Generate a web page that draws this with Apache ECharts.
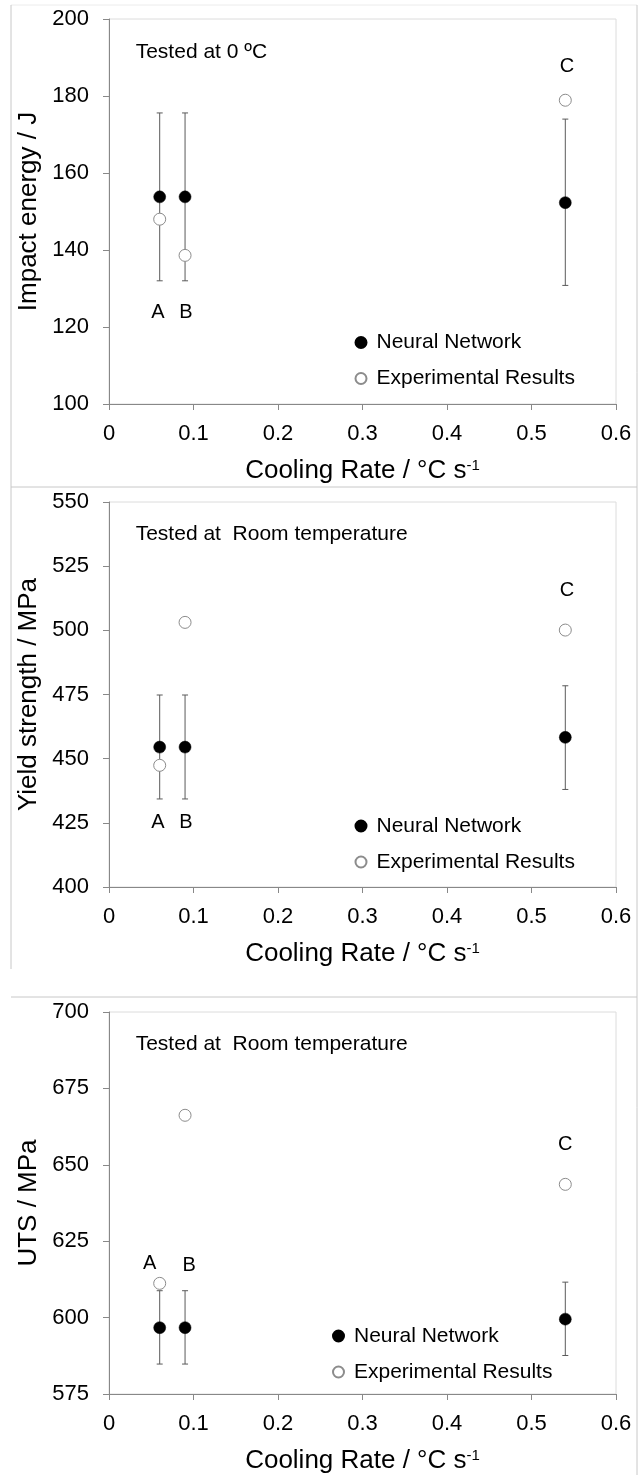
<!DOCTYPE html>
<html>
<head>
<meta charset="utf-8">
<title>Cooling rate: neural network vs experiment</title>
<script src="https://cdn.jsdelivr.net/npm/echarts@6/dist/echarts.min.js"></script>
<style>
  html, body { margin: 0; padding: 0; background: #fff; }
  #chart { width: 641px; height: 1475px; }
</style>
</head>
<body>
<div id="chart"></div>
<script>
// Cooling rates of the three samples (°C/s)
const coolingRate = [0.06, 0.09, 0.54];
const sampleNames = ['A', 'B', 'C'];

// Impact energy at 0 °C (J)
const impactNN = [153.8, 153.8, 152.3];
const impactNNLow = [132.0, 132.0, 130.8];
const impactNNHigh = [175.6, 175.6, 174.0];
const impactExp = [148.0, 138.6, 178.9];

// Yield strength at room temperature (MPa)
const yieldNN = [454.5, 454.5, 458.3];
const yieldNNLow = [434.3, 434.3, 438.0];
const yieldNNHigh = [474.8, 474.8, 478.4];
const yieldExp = [447.4, 503.1, 500.1];

// Ultimate tensile strength at room temperature (MPa)
const utsNN = [596.7, 596.7, 599.5];
const utsNNLow = [584.8, 584.8, 587.6];
const utsNNHigh = [608.8, 608.8, 611.6];
const utsExp = [611.2, 666.2, 643.6];

const FONT = 'Liberation Sans, Arial, Helvetica, sans-serif';

// Per-panel layout: grid placement, axis range, note and letter anchors (data units)
const panels = [
  {
    top: 19, yName: 'Impact energy / J', yMin: 100, yMax: 200, yStep: 20,
    nn: impactNN, lo: impactNNLow, hi: impactNNHigh, exp: impactExp,
    note: 'Tested at 0 ºC', noteAt: [0.031, 191.3],
    letterAt: [[0.058, 123.8], [0.091, 123.8], [0.542, 187.7]],
    legendLeft: 349.5, legendTop: 325.5
  },
  {
    top: 502, yName: 'Yield strength / MPa', yMin: 400, yMax: 550, yStep: 25,
    nn: yieldNN, lo: yieldNNLow, hi: yieldNNHigh, exp: yieldExp,
    note: 'Tested at  Room temperature', noteAt: [0.031, 537.3],
    letterAt: [[0.058, 425.3], [0.091, 425.3], [0.542, 515.6]],
    legendLeft: 349.5, legendTop: 809
  },
  {
    top: 1012, yName: 'UTS / MPa', yMin: 575, yMax: 700, yStep: 25,
    nn: utsNN, lo: utsNNLow, hi: utsNNHigh, exp: utsExp,
    note: 'Tested at  Room temperature', noteAt: [0.031, 689.6],
    letterAt: [[0.048, 617.8], [0.095, 617.1], [0.540, 656.6]],
    legendLeft: 327, legendTop: 1319
  }
];

const grids = [], xAxes = [], yAxes = [], series = [], legends = [];

function errorBarItem(params, api) {
  const x = api.value(0);
  const lo = api.coord([x, api.value(1)]);
  const hi = api.coord([x, api.value(2)]);
  const cap = 3;
  const style = { stroke: '#5a5a5a', lineWidth: 1 };
  return {
    type: 'group',
    children: [
      { type: 'line', shape: { x1: lo[0], y1: lo[1], x2: hi[0], y2: hi[1] }, style },
      { type: 'line', shape: { x1: lo[0] - cap, y1: lo[1], x2: lo[0] + cap, y2: lo[1] }, style },
      { type: 'line', shape: { x1: hi[0] - cap, y1: hi[1], x2: hi[0] + cap, y2: hi[1] }, style }
    ]
  };
}

panels.forEach((p, i) => {
  grids.push({
    left: 109, right: 25, top: p.top, height: 385,
    show: true, borderColor: '#dcdcdc', borderWidth: 1, backgroundColor: 'transparent'
  });

  xAxes.push({
    gridIndex: i, type: 'value', min: 0, max: 0.6, interval: 0.1,
    name: 'Cooling Rate / °C s{sup|-1}', nameLocation: 'middle', nameGap: 54,
    nameTextStyle: {
      fontFamily: FONT, fontSize: 26, color: '#000',
      rich: { sup: { fontFamily: FONT, fontSize: 15, color: '#000', verticalAlign: 'top' } }
    },
    axisLine: { show: true, lineStyle: { color: '#888', width: 1 } },
    axisTick: { show: true, length: 6, lineStyle: { color: '#888' } },
    axisLabel: { fontFamily: FONT, fontSize: 22, color: '#000', margin: 19 },
    splitLine: { show: false }
  });

  yAxes.push({
    gridIndex: i, type: 'value', min: p.yMin, max: p.yMax, interval: p.yStep,
    name: p.yName, nameLocation: 'middle', nameGap: 63,
    nameTextStyle: { fontFamily: FONT, fontSize: 26, color: '#000' },
    axisLine: { show: true, lineStyle: { color: '#888', width: 1 } },
    axisTick: { show: true, length: 6, lineStyle: { color: '#888' } },
    axisLabel: { fontFamily: FONT, fontSize: 22, color: '#000', margin: 20 },
    splitLine: { show: false }
  });

  // Error bars of the network predictions
  series.push({
    type: 'custom', xAxisIndex: i, yAxisIndex: i, z: 1, silent: true,
    renderItem: errorBarItem,
    encode: { x: 0, y: [1, 2] },
    data: coolingRate.map((x, k) => [x, p.lo[k], p.hi[k]])
  });

  series.push({
    name: 'Neural Network', type: 'scatter', xAxisIndex: i, yAxisIndex: i, z: 3,
    symbol: 'circle', symbolSize: 12, silent: true,
    itemStyle: { color: '#000', borderColor: '#000', borderWidth: 0.5, opacity: 1 },
    data: coolingRate.map((x, k) => [x, p.nn[k]])
  });

  series.push({
    name: 'Experimental Results', type: 'scatter', xAxisIndex: i, yAxisIndex: i, z: 4,
    symbol: 'circle', symbolSize: 12, silent: true,
    itemStyle: { color: '#fff', borderColor: '#8c8c8c', borderWidth: 1, opacity: 1 },
    data: coolingRate.map((x, k) => [x, p.exp[k]])
  });

  // Sample letters
  series.push({
    type: 'scatter', xAxisIndex: i, yAxisIndex: i, z: 5, silent: true,
    symbolSize: 1, itemStyle: { color: 'rgba(0,0,0,0)', opacity: 1 },
    label: {
      show: true, position: 'inside', fontFamily: FONT, fontSize: 20, color: '#000',
      formatter: (d) => sampleNames[d.dataIndex]
    },
    data: p.letterAt
  });

  // Test condition note
  series.push({
    type: 'scatter', xAxisIndex: i, yAxisIndex: i, z: 5, silent: true,
    symbolSize: 1, itemStyle: { color: 'rgba(0,0,0,0)', opacity: 1 },
    label: {
      show: true, position: 'right', distance: 0, fontFamily: FONT, fontSize: 21, color: '#000',
      formatter: () => p.note
    },
    data: [p.noteAt]
  });

  legends.push({
    orient: 'vertical', left: p.legendLeft, top: p.legendTop,
    selectedMode: false, itemWidth: 21, itemHeight: 11, itemGap: 12,
    textStyle: { fontFamily: FONT, fontSize: 21, color: '#000', lineHeight: 24 },
    data: ['Neural Network', 'Experimental Results']
  });
});

// Thin frames separating the three panels
const frameStyle = { stroke: '#c8c8c8', lineWidth: 1 };
const graphic = [
  { type: 'line', shape: { x1: 11, y1: 5, x2: 637, y2: 5 }, style: { stroke: '#ececec', lineWidth: 1 } },
  { type: 'line', shape: { x1: 11, y1: 5, x2: 11, y2: 969 }, style: frameStyle },
  { type: 'line', shape: { x1: 637, y1: 5, x2: 637, y2: 1475 }, style: frameStyle },
  { type: 'line', shape: { x1: 11, y1: 487, x2: 637, y2: 487 }, style: frameStyle },
  { type: 'line', shape: { x1: 11, y1: 997, x2: 637, y2: 997 }, style: frameStyle }
];

const chart = echarts.init(document.getElementById('chart'), null, { renderer: 'canvas' });
chart.setOption({
  animation: false,
  backgroundColor: '#fff',
  grid: grids,
  xAxis: xAxes,
  yAxis: yAxes,
  legend: legends,
  series: series,
  graphic: graphic
});
</script>
</body>
</html>
